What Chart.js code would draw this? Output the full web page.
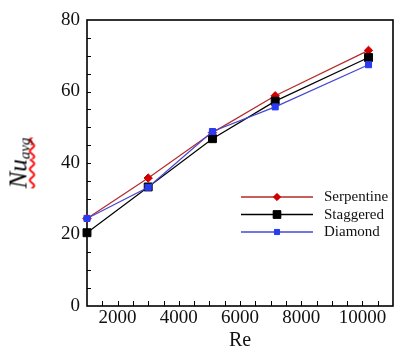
<!DOCTYPE html>
<html>
<head>
<meta charset="utf-8">
<script src="https://cdn.jsdelivr.net/npm/chart.js@4"></script>
<style>
  html,body{margin:0;padding:0;background:#fff;}
  #wrap{position:relative;width:394px;height:354px;}
  #ytitle{position:absolute;left:19px;top:163px;transform:translate(-50%,-50%) rotate(-90deg);white-space:nowrap;
    font-family:'Liberation Serif','Times New Roman',serif;font-style:italic;font-size:25px;line-height:1;color:#000;
    text-decoration:underline wavy #ff0000;text-decoration-skip-ink:none;text-underline-offset:2px;text-decoration-thickness:1.5px;}
  #ytitle sub{font-size:15px;vertical-align:-3px;}
</style>
</head>
<body>
<div id="wrap">
<canvas id="c" width="394" height="354"></canvas>
<div id="ytitle">Nu<sub>avg</sub></div>
</div>
<script>
const reynolds = [1000, 3000, 5100, 7150, 10200];
const serpentine = [24.5, 35.8, 48.5, 58.8, 71.5];
const staggered = [20.5, 33.3, 46.8, 57.3, 69.5];
const diamond = [24.5, 33.2, 48.8, 55.7, 67.5];
const seriesNames = ['Serpentine', 'Staggered', 'Diamond'];
const xTickLabels = [2000, 4000, 6000, 8000, 10000];
const yTickLabels = [0, 20, 40, 60, 80];

const pts = arr => reynolds.map((r, i) => ({x: r, y: arr[i]}));

const styles = [
  {line:'#b52a2a', point:'#d00000', style:'rectRot', r:4.2, lr:3.6},
  {line:'#000000', point:'#000000', style:'rect', r:5.6, lr:5.4},
  {line:'#4646d2', point:'#2a3cf0', style:'rect', r:4.3, lr:3.6}
];
const allData = [serpentine, staggered, diamond];

const frame = {
  id:'frame',
  beforeDatasetsDraw(chart){
    const {ctx, chartArea:a, scales:{x, y}} = chart;
    ctx.save();
    ctx.strokeStyle = '#000';
    ctx.lineWidth = 1;
    ctx.beginPath();
    for (let v = 1500; v < 11000; v += 500) {
      const px = Math.round(x.getPixelForValue(v)) + 0.5;
      ctx.moveTo(px, a.bottom); ctx.lineTo(px, a.bottom - 5);
    }
    for (let v = 5; v < 80; v += 5) {
      const py = Math.round(y.getPixelForValue(v)) + 0.5;
      ctx.moveTo(a.left, py); ctx.lineTo(a.left + 4, py);
    }
    ctx.stroke();
    ctx.lineWidth = 1.6;
    ctx.strokeRect(a.left, a.top, a.right - a.left, a.bottom - a.top);
    ctx.restore();
  },
  afterDraw(chart){
    const {ctx} = chart;
    ctx.save();
    const x0 = 241, x1 = 313, xm = 277, xt = 324;
    const rows = [197, 214.5, 232];
    chart.data.datasets.forEach((ds, i) => {
      const yy = rows[i];
      const st = styles[i];
      ctx.strokeStyle = st.line; ctx.lineWidth = 1.3;
      ctx.beginPath(); ctx.moveTo(x0, yy); ctx.lineTo(x1, yy); ctx.stroke();
      ctx.fillStyle = st.point; ctx.strokeStyle = st.point; ctx.lineWidth = 1;
      Chart.helpers.drawPoint(ctx, {pointStyle: st.style, radius: st.lr, rotation: 0, borderWidth: 1}, xm, yy);
      ctx.fill();
      ctx.fillStyle = '#111';
      ctx.font = "15px 'Liberation Serif', serif";
      ctx.textBaseline = 'middle';
      ctx.textAlign = 'left';
      ctx.fillText(ds.label, xt, yy + 0.5);
    });
    ctx.restore();
  }
};

new Chart(document.getElementById('c'), {
  type: 'scatter',
  data: {
    datasets: seriesNames.map((n, i) => ({
      label: n,
      data: pts(allData[i]),
      showLine: true,
      borderColor: styles[i].line,
      borderWidth: 1.2,
      pointStyle: styles[i].style,
      pointRadius: styles[i].r,
      pointBackgroundColor: styles[i].point,
      pointBorderColor: styles[i].point,
      pointBorderWidth: 1,
      clip: false,
      order: 3 - i
    }))
  },
  options: {
    responsive: false,
    animation: false,
    events: [],
    layout: {autoPadding: false, padding: {top: 20, right: 1, left: 0, bottom: 0}},
    plugins: {legend: {display: false}, tooltip: {enabled: false}},
    scales: {
      x: {
        type: 'linear', min: 1000, max: 11000,
        afterBuildTicks: s => { s.ticks = xTickLabels.map(v => ({value: v})); },
        afterFit: s => { s.height = 48; },
        grid: {display: false, drawTicks: false},
        border: {display: false},
        ticks: {padding: 1, color: '#111', maxRotation: 0, autoSkip: false,
          font: {family: "'Liberation Serif', serif", size: 19},
          callback: v => String(v)},
        title: {display: true, text: 'Re', color: '#111', padding: {top: 0, bottom: 1},
          font: {family: "'Liberation Serif', serif", size: 20}}
      },
      y: {
        type: 'linear', min: 0, max: 80,
        afterBuildTicks: s => { s.ticks = yTickLabels.map(v => ({value: v})); },
        afterFit: s => { s.width = 87; },
        grid: {display: false, drawTicks: false},
        border: {display: false},
        ticks: {padding: 7, color: '#111', autoSkip: false,
          font: {family: "'Liberation Serif', serif", size: 19}}
      }
    }
  },
  plugins: [frame]
});
</script>
</body>
</html>
